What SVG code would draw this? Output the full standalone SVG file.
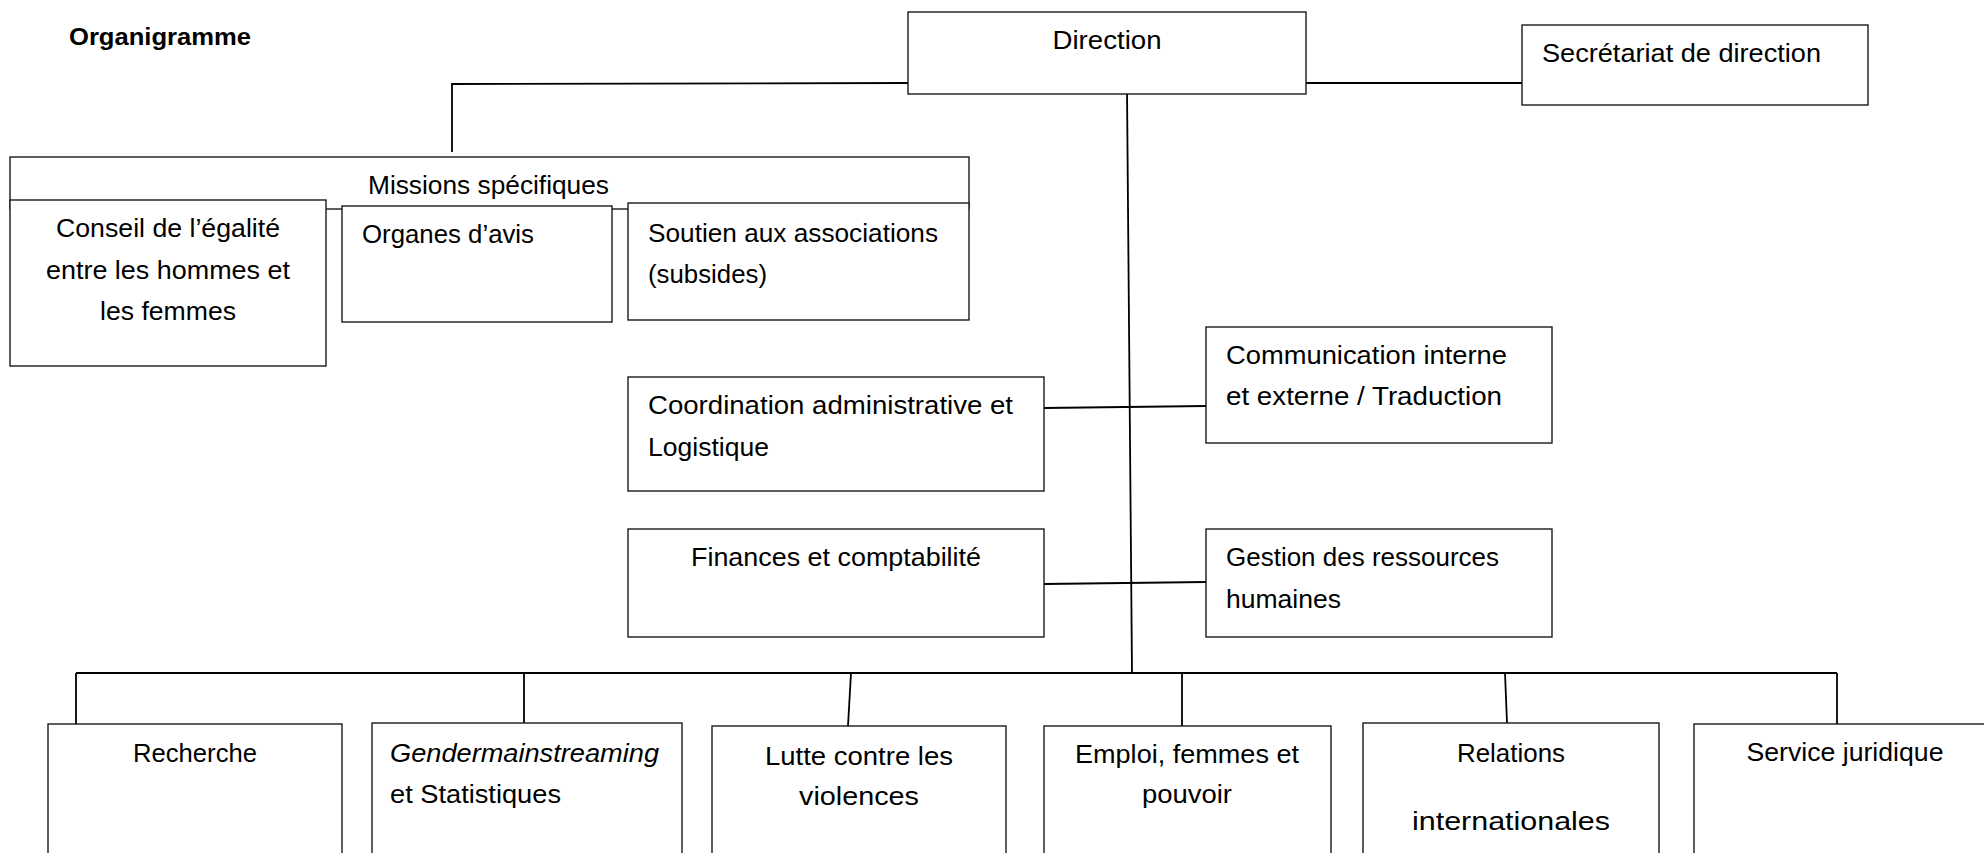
<svg xmlns="http://www.w3.org/2000/svg" width="1984" height="853" viewBox="0 0 1984 853">
<style>
.box{fill:#fff;stroke:#1a1a1a;stroke-width:1.4}
.ln{stroke:#000;stroke-width:1.8;fill:none}
text{font-family:"Liberation Sans",Arial,sans-serif;font-size:26px;fill:#000}
.c{text-anchor:middle}
</style>
<rect width="1984" height="853" fill="#fff"/>
<text x="69" y="45" style="font-weight:bold;font-size:24px" textLength="182" lengthAdjust="spacingAndGlyphs">Organigramme</text>
<g id="connectors">
<polyline class="ln" points="452,152 452,84 908,83"/>
<line class="ln" x1="1306" y1="83" x2="1522" y2="83"/>
<line class="ln" x1="1127" y1="90" x2="1132" y2="673"/>
<line class="ln" x1="1044" y1="408" x2="1206" y2="406"/>
<line class="ln" x1="1044" y1="584" x2="1206" y2="582"/>
<line class="ln" x1="76" y1="673" x2="1837" y2="673"/>
<line class="ln" x1="76" y1="673" x2="76" y2="724"/>
<line class="ln" x1="524" y1="673" x2="524" y2="727"/>
<line class="ln" x1="851" y1="673" x2="848" y2="726"/>
<line class="ln" x1="1182" y1="673" x2="1182" y2="726"/>
<line class="ln" x1="1505" y1="673" x2="1507" y2="723"/>
<line class="ln" x1="1837" y1="673" x2="1837" y2="724"/>
</g>
<g id="direction">
<rect class="box" x="908" y="12" width="398" height="82"/>
<text class="c" x="1107" y="49" textLength="109" lengthAdjust="spacingAndGlyphs">Direction</text>
</g>
<g id="secretariat">
<rect class="box" x="1522" y="25" width="346" height="80"/>
<text x="1542" y="62" textLength="279" lengthAdjust="spacingAndGlyphs">Secrétariat de direction</text>
</g>
<g id="missions">
<rect class="box" x="10" y="157" width="959" height="52"/>
<text x="368" y="194" textLength="241" lengthAdjust="spacingAndGlyphs">Missions spécifiques</text>
</g>
<g id="conseil">
<rect class="box" x="10" y="200" width="316" height="166"/>
<text class="c" x="168" y="237" textLength="224" lengthAdjust="spacingAndGlyphs">Conseil de l’égalité</text>
<text class="c" x="168" y="279" textLength="244" lengthAdjust="spacingAndGlyphs">entre les hommes et</text>
<text class="c" x="168" y="320" textLength="136" lengthAdjust="spacingAndGlyphs">les femmes</text>
</g>
<g id="organes">
<rect class="box" x="342" y="206" width="270" height="116"/>
<text x="362" y="243" textLength="172" lengthAdjust="spacingAndGlyphs">Organes d’avis</text>
</g>
<g id="soutien">
<rect class="box" x="628" y="203" width="341" height="117"/>
<text x="648" y="242" textLength="290" lengthAdjust="spacingAndGlyphs">Soutien aux associations</text>
<text x="648" y="283" textLength="119" lengthAdjust="spacingAndGlyphs">(subsides)</text>
</g>
<g id="coordination">
<rect class="box" x="628" y="377" width="416" height="114"/>
<text x="648" y="414" textLength="365" lengthAdjust="spacingAndGlyphs">Coordination administrative et</text>
<text x="648" y="456" textLength="121" lengthAdjust="spacingAndGlyphs">Logistique</text>
</g>
<g id="communication">
<rect class="box" x="1206" y="327" width="346" height="116"/>
<text x="1226" y="364" textLength="281" lengthAdjust="spacingAndGlyphs">Communication interne</text>
<text x="1226" y="405" textLength="276" lengthAdjust="spacingAndGlyphs">et externe / Traduction</text>
</g>
<g id="finances">
<rect class="box" x="628" y="529" width="416" height="108"/>
<text class="c" x="836" y="566" textLength="290" lengthAdjust="spacingAndGlyphs">Finances et comptabilité</text>
</g>
<g id="grh">
<rect class="box" x="1206" y="529" width="346" height="108"/>
<text x="1226" y="566" textLength="273" lengthAdjust="spacingAndGlyphs">Gestion des ressources</text>
<text x="1226" y="608" textLength="115" lengthAdjust="spacingAndGlyphs">humaines</text>
</g>
<g id="recherche">
<rect class="box" x="48" y="724" width="294" height="150"/>
<text class="c" x="195" y="762" textLength="124" lengthAdjust="spacingAndGlyphs">Recherche</text>
</g>
<g id="gender">
<rect class="box" x="372" y="723" width="310" height="150"/>
<text x="390" y="762" style="font-style:italic" textLength="269" lengthAdjust="spacingAndGlyphs">Gendermainstreaming</text>
<text x="390" y="803" textLength="171" lengthAdjust="spacingAndGlyphs">et Statistiques</text>
</g>
<g id="lutte">
<rect class="box" x="712" y="726" width="294" height="150"/>
<text class="c" x="859" y="765" textLength="188" lengthAdjust="spacingAndGlyphs">Lutte contre les</text>
<text class="c" x="859" y="805" textLength="120" lengthAdjust="spacingAndGlyphs">violences</text>
</g>
<g id="emploi">
<rect class="box" x="1044" y="726" width="287" height="150"/>
<text class="c" x="1187" y="763" textLength="224" lengthAdjust="spacingAndGlyphs">Emploi, femmes et</text>
<text class="c" x="1187" y="803" textLength="90" lengthAdjust="spacingAndGlyphs">pouvoir</text>
</g>
<g id="relations">
<rect class="box" x="1363" y="723" width="296" height="150"/>
<text class="c" x="1511" y="762" textLength="108" lengthAdjust="spacingAndGlyphs">Relations</text>
<text class="c" x="1511" y="830" textLength="198" lengthAdjust="spacingAndGlyphs">internationales</text>
</g>
<g id="juridique">
<rect class="box" x="1694" y="724" width="320" height="150"/>
<text class="c" x="1845" y="761" textLength="197" lengthAdjust="spacingAndGlyphs">Service juridique</text>
</g>
</svg>
